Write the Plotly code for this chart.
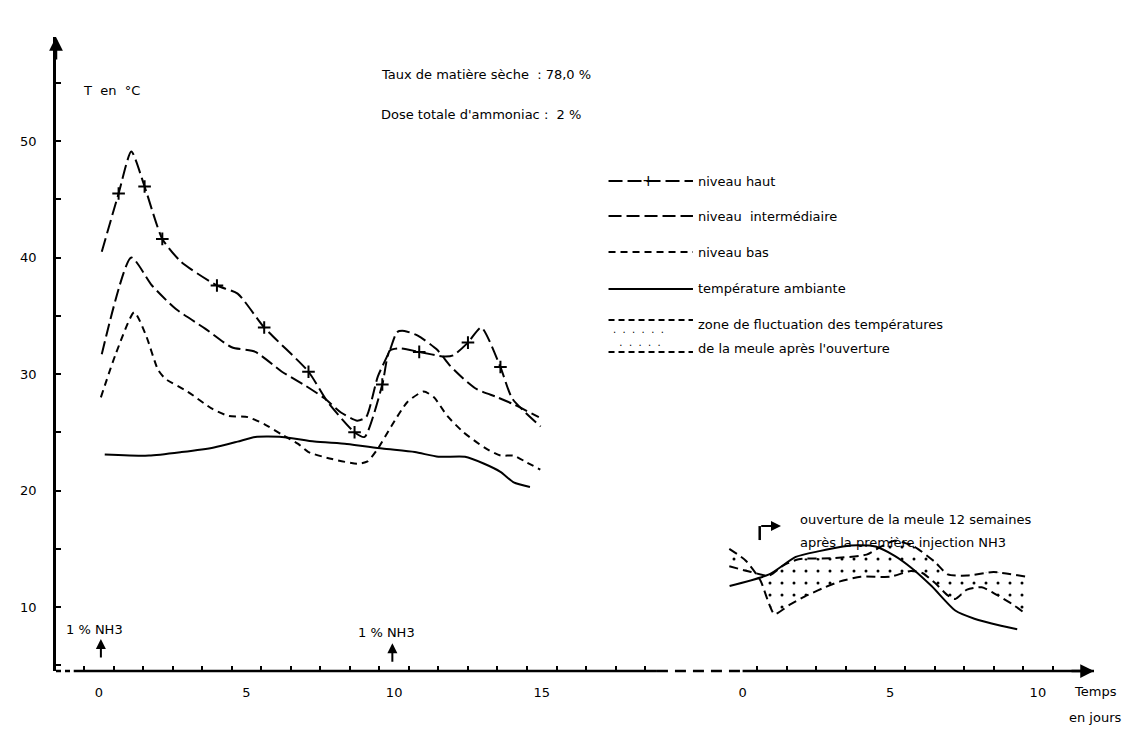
import plotly.graph_objects as go

# décalage de l'axe : début de la période après ouverture de la meule
OUVERTURE = 21.8

# --- période d'injection (jours, °C) ---
haut_jours = [0.1, 0.67, 1.1, 1.55, 2.15, 2.8, 4.0, 4.7, 5.6, 7.1, 7.75, 8.66, 9.0,
              9.6, 9.85, 10.2, 10.85, 11.7, 12.0, 12.5, 12.95, 13.6, 14.0, 14.96]
haut_temp = [40.5, 45.5, 49.1, 46.1, 41.6, 39.6, 37.6, 36.9, 34.0, 30.2, 27.6, 25.0, 24.6,
             29.1, 32.0, 32.2, 31.9, 31.5, 31.6, 32.7, 34.0, 30.6, 27.9, 25.5]
haut_croix_jours = [0.67, 1.55, 2.15, 4.0, 5.6, 7.1, 8.66, 9.6, 10.85, 12.5, 13.6]
haut_croix_temp = [45.5, 46.1, 41.6, 37.6, 34.0, 30.2, 25.0, 29.1, 31.9, 32.7, 30.6]

inter_jours = [0.1, 1.1, 1.8, 2.6, 3.6, 4.5, 5.3, 6.2, 7.0, 7.65, 8.2, 8.75, 9.05,
               9.45, 9.85, 10.1, 10.35, 10.8, 11.45, 11.9, 12.35, 12.8, 13.5, 14.05, 14.9]
inter_temp = [31.7, 40.0, 37.6, 35.6, 33.9, 32.3, 31.9, 30.2, 29.0, 27.9, 26.7, 26.0, 26.3,
              29.8, 32.0, 33.6, 33.7, 33.3, 32.1, 30.7, 29.6, 28.7, 28.0, 27.4, 26.3]

bas_jours = [0.07, 0.57, 1.2, 1.6, 2.0, 2.25, 3.0, 3.85, 4.4, 5.05, 5.6, 6.2, 6.75, 7.1,
             7.9, 8.75, 9.1, 9.45, 9.9, 10.45, 11.0, 11.35, 11.8, 12.35, 13.05, 13.6,
             14.05, 14.5, 14.95]
bas_temp = [28.0, 31.7, 35.3, 33.3, 30.4, 29.6, 28.5, 27.0, 26.4, 26.3, 25.7, 24.8, 24.0, 23.3,
            22.7, 22.3, 22.5, 23.6, 25.5, 27.6, 28.5, 28.0, 26.4, 25.0, 23.7, 23.0,
            23.0, 22.4, 21.8]

amb_jours = [0.2, 1.7, 2.8, 3.9, 4.7, 5.3, 6.2, 7.3, 8.4, 9.6, 10.7, 11.5, 12.4, 13.05,
             13.6, 14.05, 14.6]
amb_temp = [23.1, 23.0, 23.3, 23.7, 24.2, 24.6, 24.6, 24.2, 24.0, 23.6, 23.3, 22.9, 22.9,
            22.3, 21.6, 20.7, 20.3]

# --- après ouverture (jours depuis l'ouverture, °C) ---
zone_a_jours = [-0.45, 0.1, 0.6, 1.08, 1.6, 2.1, 2.7, 3.3, 4.0, 5.0, 5.7, 6.1, 6.5, 6.95,
                7.2, 7.6, 8.1, 8.5, 9.1, 9.6]
zone_a_temp = [15.0, 14.0, 12.3, 9.4, 10.2, 10.9, 11.6, 12.2, 12.6, 12.6, 13.1, 12.9, 12.1,
               11.0, 10.7, 11.5, 11.7, 11.2, 10.3, 9.4]
zone_b_jours = [-0.45, 0.3, 0.9, 1.4, 1.9, 3.1, 4.2, 4.7, 5.15, 5.8, 6.5, 6.95, 7.6, 8.5, 9.6]
zone_b_temp = [13.5, 13.0, 12.7, 13.6, 14.1, 14.2, 14.5, 15.2, 15.7, 15.2, 13.9, 12.8, 12.7,
               13.0, 12.6]
amb2_jours = [-0.44, 0.9, 1.8, 2.6, 3.4, 3.9, 4.5, 5.15, 5.7, 6.4, 7.2, 7.85, 8.75, 9.3]
amb2_temp = [11.8, 12.8, 14.3, 14.8, 15.2, 15.3, 15.2, 14.4, 13.4, 11.8, 9.7, 9.0, 8.4, 8.1]

# axes
x_etiquettes_1 = [0, 5, 10, 15]
x_etiquettes_2 = [0, 5, 10]
y_etiquettes = [10, 20, 30, 40, 50]

FONT = "DejaVu Sans"
NOIR = "black"

fig = go.Figure()

courbe = dict(mode="lines", line_shape="spline", showlegend=False, hoverinfo="skip")

fig.add_trace(go.Scatter(x=haut_jours, y=haut_temp, line=dict(color=NOIR, width=2, dash="14px,5px", smoothing=0.6), **courbe))
fig.add_trace(go.Scatter(x=haut_croix_jours, y=haut_croix_temp, mode="markers", showlegend=False,
                         marker=dict(symbol="cross-thin", size=9, line=dict(color=NOIR, width=2))))
fig.add_trace(go.Scatter(x=inter_jours, y=inter_temp, line=dict(color=NOIR, width=2, dash="13px,5px", smoothing=0.6), **courbe))
fig.add_trace(go.Scatter(x=bas_jours, y=bas_temp, line=dict(color=NOIR, width=2, dash="7px,5px", smoothing=0.6), **courbe))
fig.add_trace(go.Scatter(x=amb_jours, y=amb_temp, line=dict(color=NOIR, width=2, smoothing=0.6), **courbe))

# zone de fluctuation après ouverture
fig.add_trace(go.Scatter(x=[OUVERTURE + j for j in zone_a_jours], y=zone_a_temp,
                         line=dict(color=NOIR, width=2, dash="9px,5px", smoothing=0.6), **courbe))
fig.add_trace(go.Scatter(x=[OUVERTURE + j for j in zone_b_jours], y=zone_b_temp,
                         line=dict(color=NOIR, width=2, dash="9px,5px", smoothing=0.6),
                         fill="tonexty", fillcolor="rgba(255,255,255,0)",
                         fillpattern=dict(shape=".", fgcolor=NOIR, bgcolor="rgba(255,255,255,0)",
                                          size=12, solidity=0.05, fgopacity=1),
                         **courbe))
fig.add_trace(go.Scatter(x=[OUVERTURE + j for j in amb2_jours], y=amb2_temp,
                         line=dict(color=NOIR, width=2, smoothing=0.6), **courbe))

# axe des temps : trait plein, interruption pointillée, trait plein
axe = dict(type="line", xref="x", yref="paper", y0=0, y1=0, line=dict(color=NOIR, width=2.5))
fig.add_shape(x0=-1.45, x1=-0.85, **{**axe, "line": dict(color=NOIR, width=2.5, dash="5px,4px")})
fig.add_shape(x0=-0.85, x1=18.9, **axe)
fig.add_shape(x0=18.9, x1=OUVERTURE, **{**axe, "line": dict(color=NOIR, width=2.5, dash="11px,7px")})
fig.add_shape(x0=OUVERTURE, x1=33.7, **axe)

fleche = dict(xref="paper", yref="paper", text="", showarrow=True, arrowhead=2,
              arrowsize=1.1, arrowwidth=2.5, arrowcolor=NOIR)
fig.add_annotation(x=1, y=0, ax=-24, ay=0, **fleche)
fig.add_annotation(x=0, y=1, ax=0, ay=24, **fleche)

texte = dict(xref="x", yref="y", showarrow=False, font=dict(family=FONT, size=13, color=NOIR),
             xanchor="left")
fig.add_annotation(x=-0.6, y=54.3, text="T \u00a0en \u00a0\u00b0C", **texte)
fig.add_annotation(x=9.5, y=55.75, text="Taux de mati\u00e8re s\u00e8che \u00a0: 78,0 %", **texte)
fig.add_annotation(x=9.5, y=52.3, text="Dose totale d'ammoniac : \u00a02 %", **texte)
bas_droite = dict(xref="paper", yref="paper", showarrow=False, xanchor="right",
                  font=dict(family=FONT, size=13, color=NOIR))
fig.add_annotation(x=1.024, y=-0.048, text="Temps", **bas_droite)
fig.add_annotation(x=1.029, y=-0.088, text="en jours", **bas_droite)

# injections d'ammoniac
for jour, t_txt, t_fl in [(-0.13, 8.03, 7.25), (9.74, 7.85, 6.9)]:
    fig.add_annotation(x=jour, y=t_txt, text="1 % NH3", **{**texte, "xanchor": "center"})
    fig.add_annotation(x=jour + 0.2, y=t_fl, ax=0, ay=20, xref="x", yref="y", text="",
                       showarrow=True, arrowhead=2, arrowsize=1, arrowwidth=2, arrowcolor=NOIR)

# ouverture de la meule
fig.add_shape(type="line", xref="x", yref="y", x0=22.38, x1=22.38, y0=15.75, y1=16.95,
              line=dict(color=NOIR, width=2.5))
fig.add_annotation(x=23.1, y=16.95, ax=22.38, ay=16.95, axref="x", ayref="y", xref="x", yref="y",
                   text="", showarrow=True, arrowhead=2, arrowsize=1, arrowwidth=2, arrowcolor=NOIR)
fig.add_annotation(x=23.66, y=17.55, text="ouverture de la meule 12 semaines", **texte)
fig.add_annotation(x=23.66, y=15.58, text="apr\u00e8s la premi\u00e8re injection NH3", **texte)

# légende dessinée
leg_x0, leg_x1, leg_txt = 17.26, 20.12, 20.22
legende = [
    ("niveau haut", 46.57, "14px,5px"),
    ("niveau \u00a0interm\u00e9diaire", 43.56, "13px,5px"),
    ("niveau bas", 40.47, "7px,5px"),
    ("temp\u00e9rature ambiante", 37.30, "solid"),
]
for nom, yy, tiret in legende:
    fig.add_shape(type="line", xref="x", yref="y", x0=leg_x0, x1=leg_x1, y0=yy, y1=yy,
                  line=dict(color=NOIR, width=2, dash=tiret))
    fig.add_annotation(x=leg_txt, y=yy, text=nom, **texte)
fig.add_annotation(x=18.6, y=46.57, text="+", **{**texte, "xanchor": "center",
                                                 "font": dict(family=FONT, size=15, color=NOIR)})
for yy in (34.64, 31.89):
    fig.add_shape(type="line", xref="x", yref="y", x0=leg_x0, x1=leg_x1, y0=yy, y1=yy,
                  line=dict(color=NOIR, width=2, dash="6px,4px"))
fig.add_annotation(x=leg_x0 + 0.1, y=33.25,
                   text=". \u00a0. \u00a0. \u00a0. \u00a0. \u00a0.<br>\u00a0. \u00a0. \u00a0. \u00a0. \u00a0.",
                   **{**texte, "font": dict(family=FONT, size=10, color=NOIR)})
fig.add_annotation(x=leg_txt, y=34.21, text="zone de fluctuation des temp\u00e9ratures", **texte)
fig.add_annotation(x=leg_txt, y=32.23, text="de la meule apr\u00e8s l'ouverture", **texte)

graduations_x = [j + 0.5 for j in range(-1, 19)] + [OUVERTURE + j + 0.5 for j in range(0, 11)]

fig.update_layout(
    width=1132, height=729,
    margin=dict(l=43, r=46, t=29, b=66),
    plot_bgcolor="white", paper_bgcolor="white",
    font=dict(family=FONT, size=13, color=NOIR),
    xaxis=dict(
        range=[-1.45, 33.70], showgrid=False, zeroline=False, showline=False,
        tickmode="array",
        tickvals=x_etiquettes_1 + [OUVERTURE + v for v in x_etiquettes_2],
        ticktext=[str(v) for v in x_etiquettes_1 + x_etiquettes_2],
        ticks="", ticklabelstandoff=12,
        tickfont=dict(family=FONT, size=13, color=NOIR),
        minor=dict(tickmode="array", tickvals=graduations_x, ticks="inside",
                   ticklen=5, tickwidth=1.5, tickcolor=NOIR, showgrid=False),
    ),
    yaxis=dict(
        range=[4.51, 58.93], showgrid=False, zeroline=False,
        showline=True, linecolor=NOIR, linewidth=2.5,
        tickmode="array", tickvals=y_etiquettes, ticks="inside", ticklen=5,
        tickwidth=1.5, tickcolor=NOIR, ticklabelstandoff=14,
        tickfont=dict(family=FONT, size=13, color=NOIR),
        minor=dict(dtick=5, ticks="inside", ticklen=5, tickwidth=1.5, tickcolor=NOIR, showgrid=False),
    ),
    showlegend=False,
)

fig.write_html("out.html")
